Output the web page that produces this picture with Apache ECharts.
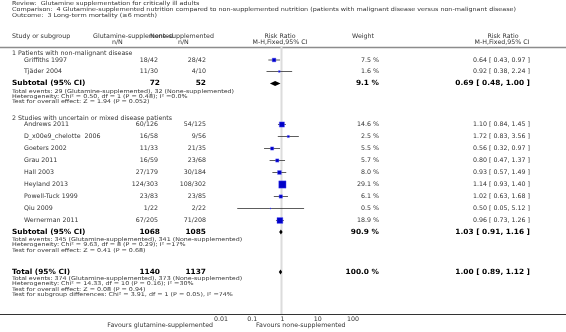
<!DOCTYPE html>
<html><head><meta charset="utf-8">
<script src="https://cdn.jsdelivr.net/npm/echarts@6/dist/echarts.min.js"></script>
<style>html,body{margin:0;padding:0;background:#fff}#c{width:566px;height:332px}</style>
</head><body><div id="c"></div>
<script>
// ---------- data ----------
const titleLines = [
  'Review:  Glutamine supplementation for critically ill adults',
  'Comparison:  4 Glutamine-supplemented nutrition compared to non-supplemented nutrition (patients with malignant disease versus non-malignant disease)',
  'Outcome:  3 Long-term mortality (\u22656 month)'
];
const groupLabels = ['1 Patients with non-malignant disease', '2 Studies with uncertain or mixed disease patients'];
const studyNames = ['Griffiths 1997','Tj\u00e4der 2004','Andrews 2011','D_x00e9_chelotte  2006','Goeters 2002','Grau 2011','Hall 2003','Heyland 2013','Powell-Tuck 1999','Qiu 2009','Wernerman 2011'];
const glutEvents = [18,11,60,16,11,16,27,124,23,1,67];
const glutTotal  = [42,30,126,58,33,59,179,303,83,22,205];
const noneEvents = [28,4,54,9,21,23,30,108,23,2,71];
const noneTotal  = [42,10,125,56,35,68,184,302,85,22,208];
const weights    = [7.5,1.6,14.6,2.5,5.5,5.7,8.0,29.1,6.1,0.5,18.9];
const riskRatio  = [0.64,0.92,1.10,1.72,0.56,0.80,0.93,1.14,1.02,0.50,0.96];
const ciLow      = [0.43,0.38,0.84,0.83,0.32,0.47,0.57,0.93,0.63,0.05,0.73];
const ciHigh     = [0.97,2.24,1.45,3.56,0.97,1.37,1.49,1.40,1.68,5.12,1.26];

const subtotalLabels = ['Subtotal (95% CI)','Subtotal (95% CI)','Total (95% CI)'];
const subtotalGlut   = [72,1068,1140];
const subtotalNone   = [52,1085,1137];
const subtotalWeight = [9.1,90.9,100.0];
const subtotalRR     = [0.69,1.03,1.00];
const subtotalLow    = [0.48,0.91,0.89];
const subtotalHigh   = [1.00,1.16,1.12];
const subtotalNotes = [
  ['Total events: 29 (Glutamine-supplemented), 32 (None-supplemented)',
   'Heterogeneity: Chi\u00b2 = 0.50, df = 1 (P = 0.48); I\u00b2 =0.0%',
   'Test for overall effect: Z = 1.94 (P = 0.052)'],
  ['Total events: 345 (Glutamine-supplemented), 341 (None-supplemented)',
   'Heterogeneity: Chi\u00b2 = 9.63, df = 8 (P = 0.29); I\u00b2 =17%',
   'Test for overall effect: Z = 0.41 (P = 0.68)'],
  ['Total events: 374 (Glutamine-supplemented), 373 (None-supplemented)',
   'Heterogeneity: Chi\u00b2 = 14.33, df = 10 (P = 0.16); I\u00b2 =30%',
   'Test for overall effect: Z = 0.08 (P = 0.94)',
   'Test for subgroup differences: Chi\u00b2 = 3.91, df = 1 (P = 0.05), I\u00b2 =74%']
];
const tickLabels = ['0.01','0.1','1','10','100'];
const favourLabels = ['Favours glutamine-supplemented','Favours none-supplemented'];

// ---------- layout (row positions on the vertical scale) ----------
const studyRowY    = [60,71.5,124.5,136.5,148.5,160.5,172.5,184.5,196.5,208.5,220.5];
const subtotalRowY = [83.5,232,272];
const groupLabelY  = [53,118];
const noteStartY   = [90.5,239,278];
const noteStep = 5.3;
const axisY = 314;

const FONT = '"DejaVu Sans", Verdana, sans-serif';
const FS = 6.3;
const NOTE_FS = 5.3, NOTE_SX = 1.2;
const BOLD_FS = 7.2, BOLD_SX = 1.03;
const TXT = '#333';
const colX = {name: 24, label: 12, glut: 158, none: 206, weight: 379, rr: 530};

function fmtRR(r, lo, hi){ return r.toFixed(2)+' [ '+lo.toFixed(2)+', '+hi.toFixed(2)+' ]'; }
function txt(text, x, y, align, bold, size, sx){
  return {type:'text', x:x, y:y, scaleX:sx||1, style:{text:text, x:0, y:0, align:align||'left', verticalAlign:'middle',
    fill:bold?'#000':TXT, fontFamily:FONT, fontSize:size||FS, fontWeight:bold?'bold':'normal'}};
}

const chart = echarts.init(document.getElementById('c'), null, {renderer:'canvas', width:566, height:332});

const studyData = studyNames.map((n,i)=>[riskRatio[i], ciLow[i], ciHigh[i], studyRowY[i], i]);
const subData = subtotalLabels.map((n,i)=>[subtotalRR[i], subtotalLow[i], subtotalHigh[i], subtotalRowY[i], i]);

const option = {
  animation: false,
  grid: {left: 214, right: 566-347, top: 0, bottom: 332-axisY},
  xAxis: {
    type: 'log', logBase: 10, min: 0.01, max: 100,
    axisLine: {show: false},
    axisTick: {show: true, inside: true, length: 3, lineStyle: {color: '#333', width: 1}},
    axisLabel: {show: true, align: 'left', margin: 2, color: TXT, fontSize: FS, fontFamily: FONT,
      formatter: (v, idx) => tickLabels[idx] !== undefined ? tickLabels[idx] : ''},
    splitLine: {show: false}
  },
  yAxis: {type: 'value', min: 0, max: axisY, inverse: true, show: false},
  series: [
    { // reference line at RR = 1
      type: 'custom', clip: false, z: 1,
      data: [[1, 47, axisY]],
      renderItem: (p, api) => {
        const a = api.coord([api.value(0), api.value(1)]);
        const b = api.coord([api.value(0), api.value(2)]);
        return {type:'line', shape:{x1:Math.round(a[0])+0.5, y1:a[1], x2:Math.round(b[0])+0.5, y2:b[1]},
          style:{stroke:'#dcdcdc', lineWidth:2}};
      }
    },
    { // individual studies
      type: 'custom', clip: false, z: 3,
      data: studyData,
      renderItem: (p, api) => {
        const i = api.value(4);
        const c = api.coord([api.value(0), api.value(3)]);
        const l = api.coord([api.value(1), api.value(3)]);
        const h = api.coord([api.value(2), api.value(3)]);
        const s = Math.max(1, Math.sqrt(weights[i]) * 1.35);
        const y = c[1];
        return {type:'group', children:[
          {type:'line', shape:{x1:l[0], y1:y, x2:h[0], y2:y}, style:{stroke:'#333', lineWidth:0.8}},
          {type:'rect', shape:{x:c[0]-s/2, y:y-s/2, width:s, height:s}, style:{fill:'#0000c8', stroke:'#5a5aff', lineWidth:0.4}},
          txt(studyNames[i], colX.name, y, 'left'),
          txt(glutEvents[i]+'/'+glutTotal[i], colX.glut, y, 'right'),
          txt(noneEvents[i]+'/'+noneTotal[i], colX.none, y, 'right'),
          txt(weights[i].toFixed(1)+' %', colX.weight, y, 'right'),
          txt(fmtRR(riskRatio[i], ciLow[i], ciHigh[i]), colX.rr, y, 'right')
        ]};
      }
    },
    { // subtotals / total
      type: 'custom', clip: false, z: 3,
      data: subData,
      renderItem: (p, api) => {
        const i = api.value(4);
        const c = api.coord([api.value(0), api.value(3)]);
        const l = api.coord([api.value(1), api.value(3)]);
        const h = api.coord([api.value(2), api.value(3)]);
        const y = c[1], dh = 2.6;
        const children = [
          {type:'polygon', shape:{points:[[l[0],y],[c[0],y-dh],[h[0],y],[c[0],y+dh]]}, style:{fill:'#000'}},
          txt(subtotalLabels[i], colX.label, y, 'left', true, BOLD_FS, BOLD_SX),
          txt(String(subtotalGlut[i]), colX.glut+2, y, 'right', true, BOLD_FS, BOLD_SX),
          txt(String(subtotalNone[i]), colX.none, y, 'right', true, BOLD_FS, BOLD_SX),
          txt(subtotalWeight[i].toFixed(1)+' %', colX.weight, y, 'right', true, BOLD_FS, BOLD_SX),
          txt(fmtRR(subtotalRR[i], subtotalLow[i], subtotalHigh[i]), colX.rr, y, 'right', true, BOLD_FS, BOLD_SX)
        ];
        subtotalNotes[i].forEach((t, k) => {
          const yy = api.coord([1, noteStartY[i] + 0.8 + k*noteStep])[1];
          children.push(txt(t, colX.label, yy, 'left', false, NOTE_FS, NOTE_SX));
        });
        return {type:'group', children};
      }
    }
  ],
  graphic: [
    ...titleLines.map((t,k)=>txt(t, 12, 4+k*6, 'left', false, 5.5, 1.165)),
    txt('Study or subgroup', 12, 36, 'left'),
    txt('Glutamine-supplemented', 93, 36, 'left'),
    txt('None-supplemented', 150, 36, 'left'),
    txt('n/N', 112, 42.5, 'left'),
    txt('n/N', 178, 42.5, 'left'),
    txt('Risk Ratio', 280, 36, 'center'),
    txt('M-H,Fixed,95% CI', 280, 42.5, 'center'),
    txt('Weight', 363, 36, 'center'),
    txt('Risk Ratio', 503, 36, 'center'),
    txt('M-H,Fixed,95% CI', 502, 42.5, 'center'),
    {type:'line', shape:{x1:0, y1:47.5, x2:566, y2:47.5}, style:{stroke:'#8c8c8c', lineWidth:1.6}},
    {type:'line', shape:{x1:0, y1:axisY+0.5, x2:566, y2:axisY+0.5}, style:{stroke:'#333', lineWidth:1}},
    txt(favourLabels[0], 213, 325.5, 'right'),
    txt(favourLabels[1], 256, 325.5, 'left'),
    ...groupLabels.map((g,k)=>txt(g, 12, groupLabelY[k], 'left'))
  ]
};
chart.setOption(option);
</script></body></html>
